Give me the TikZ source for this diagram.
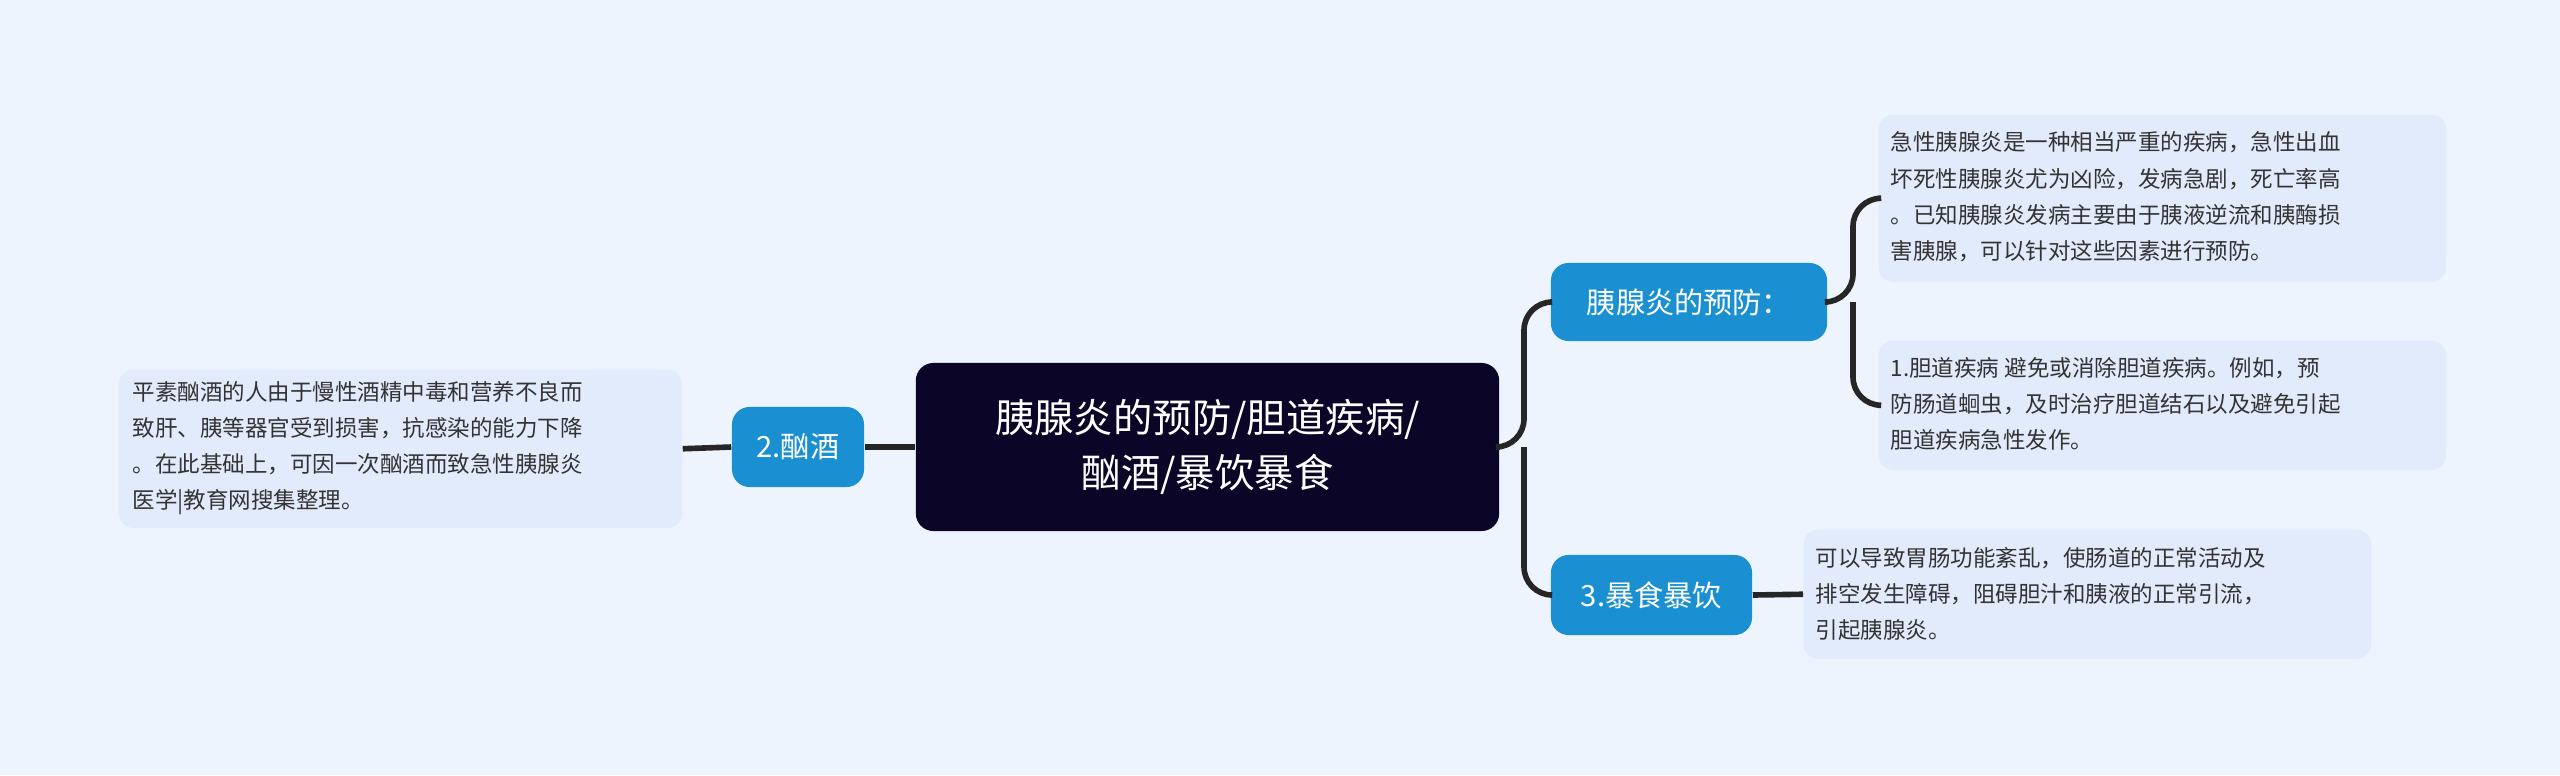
\documentclass[tikz,border=0pt]{standalone}
\usepackage{fontspec}
\setmainfont{Noto Sans CJK SC}
\begin{document}
\begin{tikzpicture}[x=0.01cm,y=-0.01cm,
  line/.style={draw=black!85,line width=1.6pt,rounded corners=8pt},
  txt/.style={fill=boxbg,rounded corners=4pt,anchor=north west,align=left,inner sep=0pt,text=black!80,font=\fontsize{6.4pt}{10.3pt}\selectfont},
  blue/.style={fill=topicblue,rounded corners=5pt,text=white,inner sep=0pt,font=\fontsize{8.3pt}{10pt}\selectfont}]
\definecolor{bg}{HTML}{EEF4FE}
\definecolor{boxbg}{HTML}{E2EBFC}
\definecolor{topicblue}{HTML}{1A90D2}
\definecolor{navy}{HTML}{0B0628}
\fill[bg] (0,0) rectangle (2560,775);
% central
\node[fill=navy,rounded corners=5pt,minimum width=583\pgflinewidth,inner sep=0pt,text=white,align=center,
  font=\fontsize{11.2pt}{15.5pt}\selectfont,minimum width=5.83cm,minimum height=1.68cm] (c) at (1207.5,447) {胰腺炎的预防/胆道疾病/\\酗酒/暴饮暴食};
\node[blue,minimum width=1.32cm,minimum height=0.8cm] (b2) at (798,447) {2.酗酒};
\node[blue,minimum width=2.76cm,minimum height=0.78cm] (b1) at (1689,302) {胰腺炎的预防：};
\node[blue,minimum width=2.01cm,minimum height=0.8cm] (b3) at (1651.5,595) {3.暴食暴饮};
\node[txt,minimum width=5.63cm,minimum height=1.58cm] (tl) at (118,369) {};
\node[anchor=west,align=left,text=black!80,font=\fontsize{6.4pt}{10.3pt}\selectfont,inner sep=0pt] at (132,448) {平素酗酒的人由于慢性酒精中毒和营养不良而\\致肝、胰等器官受到损害，抗感染的能力下降\\。在此基础上，可因一次酗酒而致急性胰腺炎\\医学|教育网搜集整理。};
\node[txt,minimum width=5.67cm,minimum height=1.67cm] (t1) at (1878,114) {};
\node[anchor=west,align=left,text=black!80,font=\fontsize{6.4pt}{10.3pt}\selectfont,inner sep=0pt] at (1890,197) {急性胰腺炎是一种相当严重的疾病，急性出血\\坏死性胰腺炎尤为凶险，发病急剧，死亡率高\\。已知胰腺炎发病主要由于胰液逆流和胰酶损\\害胰腺，可以针对这些因素进行预防。};
\node[txt,minimum width=5.67cm,minimum height=1.29cm] (t2) at (1878,340) {};
\node[anchor=west,align=left,text=black!80,font=\fontsize{6.4pt}{10.3pt}\selectfont,inner sep=0pt] at (1890,404) {1.胆道疾病 避免或消除胆道疾病。例如，预\\防肠道蛔虫，及时治疗胆道结石以及避免引起\\胆道疾病急性发作。};
\node[txt,minimum width=5.67cm,minimum height=1.29cm] (t3) at (1803,529) {};
\node[anchor=west,align=left,text=black!80,font=\fontsize{6.4pt}{10.3pt}\selectfont,inner sep=0pt] at (1815,594) {可以导致胃肠功能紊乱，使肠道的正常活动及\\排空发生障碍，阻碍胆汁和胰液的正常引流，\\引起胰腺炎。};
% connectors
\draw[line] (c.west) -- (b2.east);
\draw[line] (b2.west) -- (tl.east);
\draw[line] (c.east) -- (1524,447) |- (b1.west);
\draw[line] (1524,447) |- (b3.west);
\draw[line] (b1.east) -- (1853,302) |- (t1.west);
\draw[line] (1853,302) |- (t2.west);
\draw[line] (b3.east) -- (t3.west);
\end{tikzpicture}
\end{document}
